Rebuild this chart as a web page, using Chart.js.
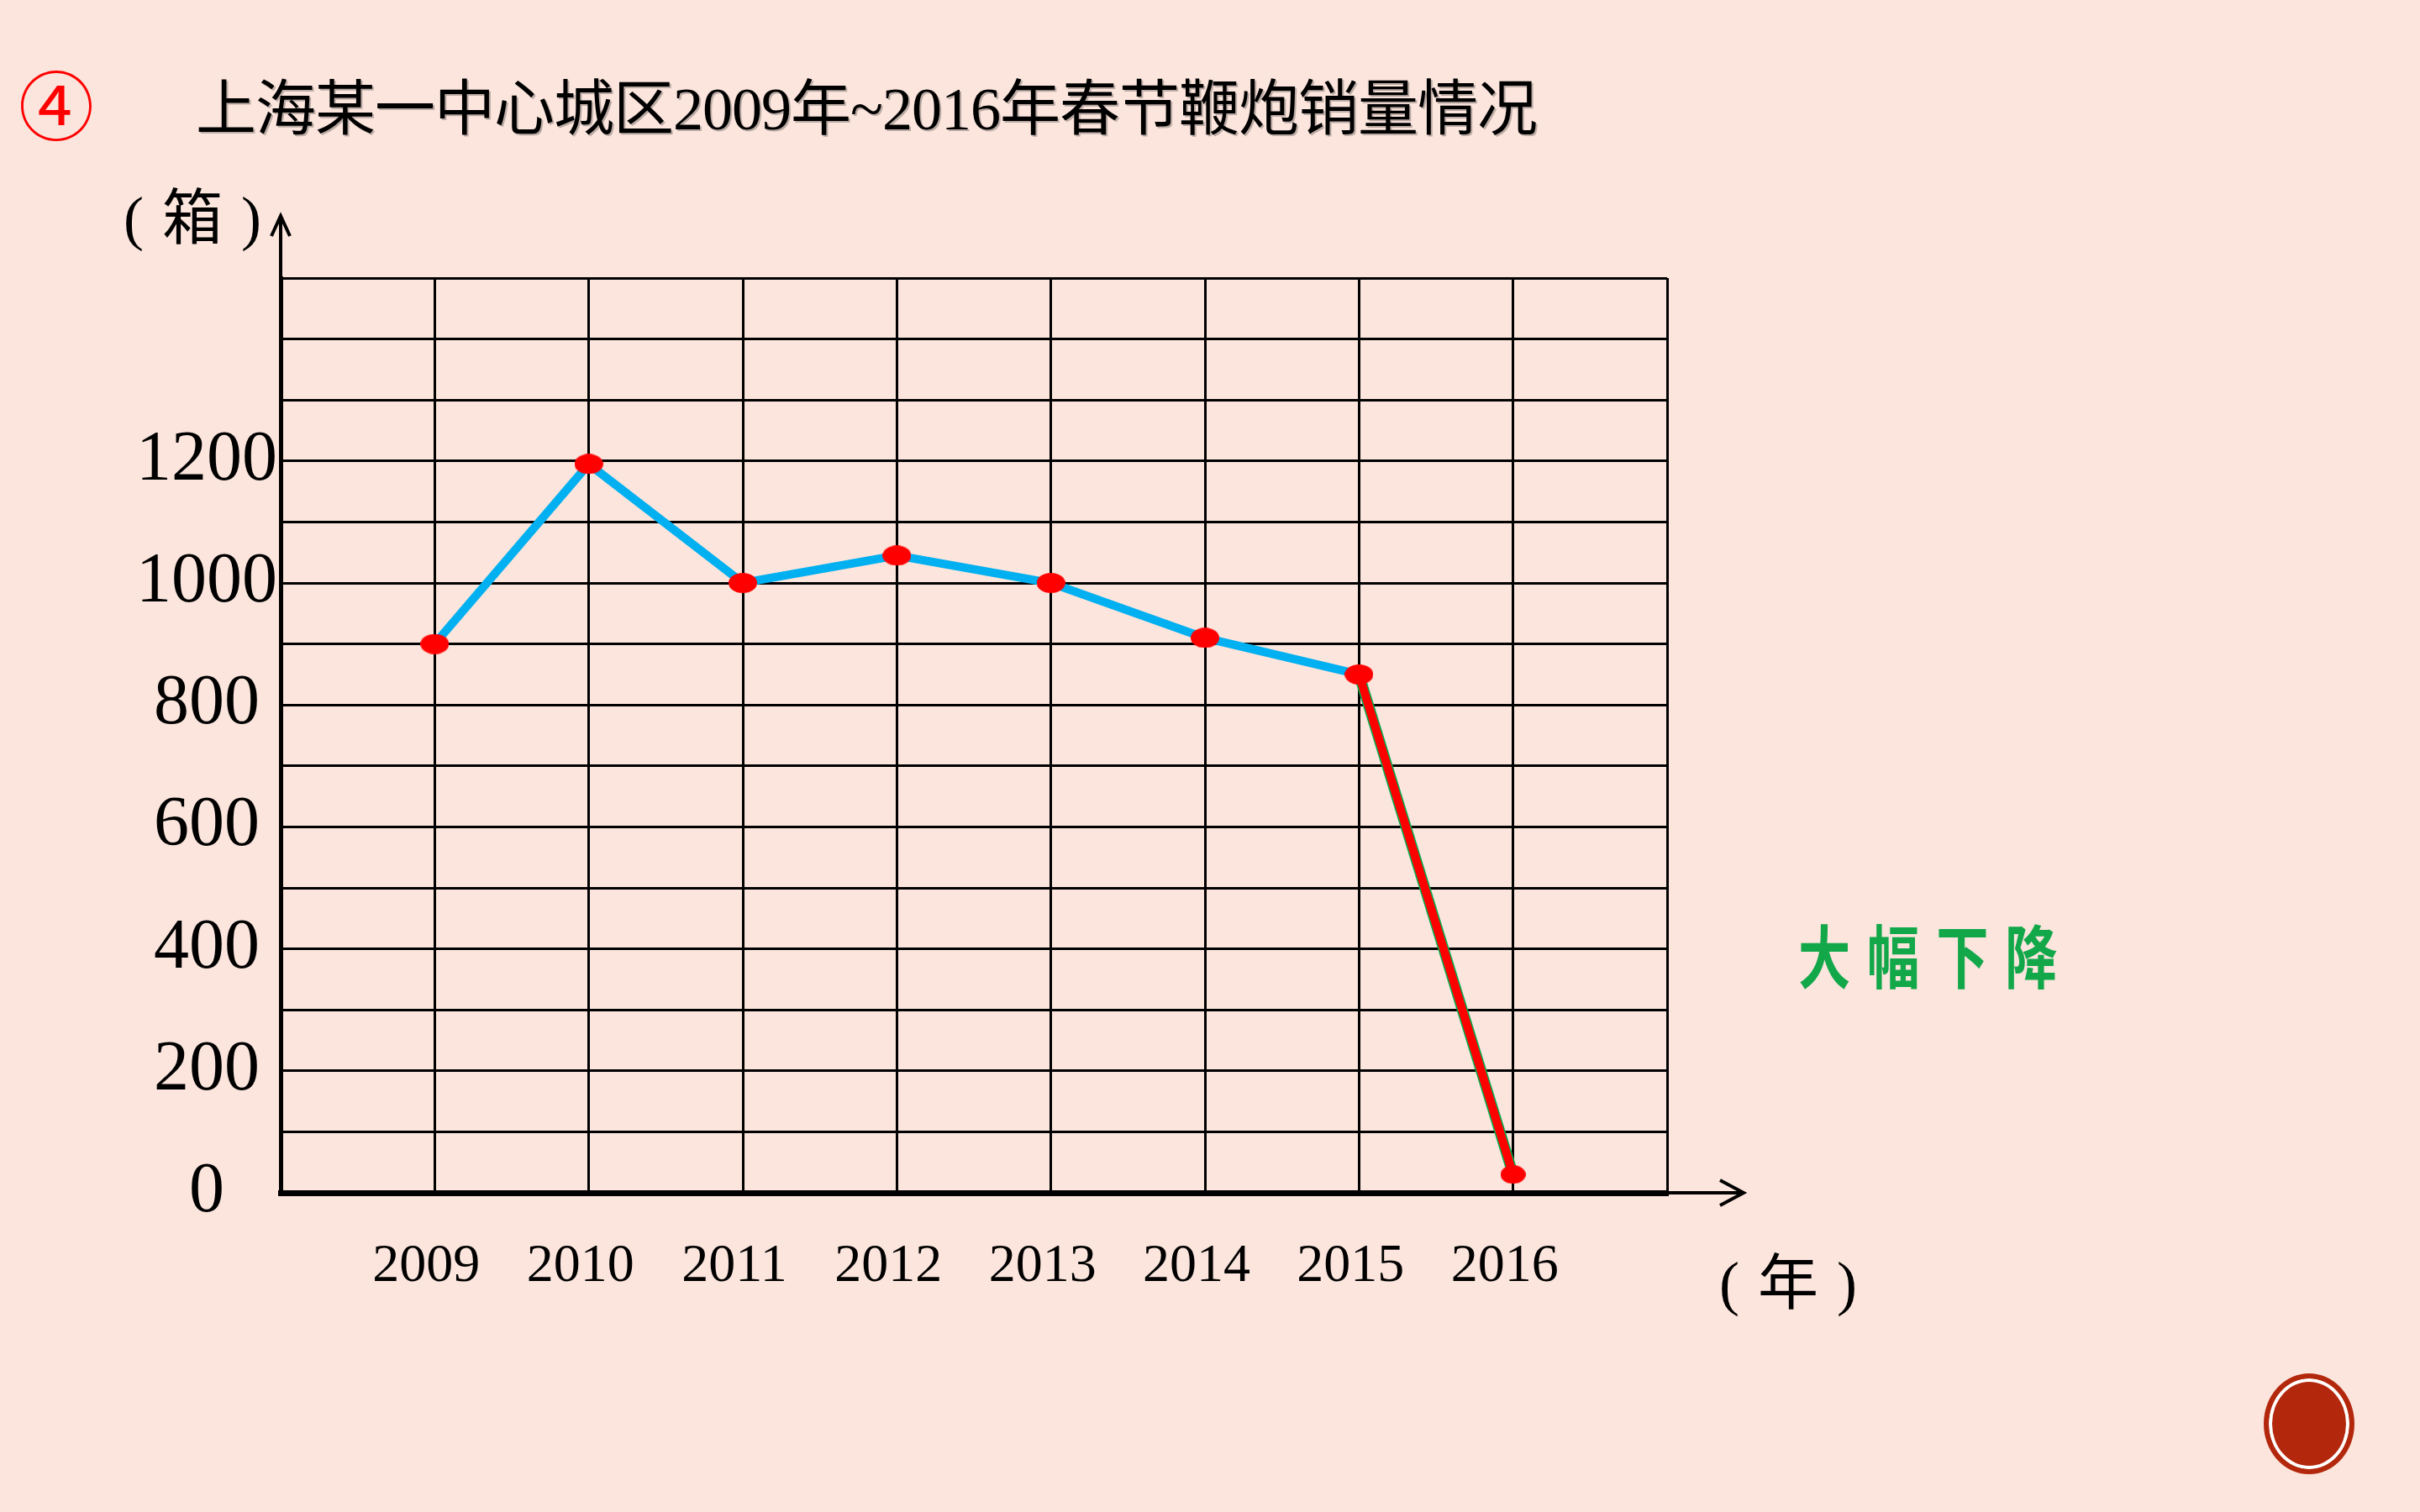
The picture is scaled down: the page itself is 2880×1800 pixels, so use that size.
<!DOCTYPE html>
<html>
<head>
<meta charset="utf-8">
<script src="https://cdn.jsdelivr.net/npm/chart.js@4.4.1/dist/chart.umd.min.js"></script>
<style>
  html, body { margin: 0; padding: 0; background: #FBE5DD; }
  #wrap { position: relative; width: 2880px; height: 1800px; overflow: hidden; }
  #chart { position: absolute; left: 0; top: 0; }
  .txt { position: absolute; white-space: nowrap; line-height: 1; font-family: "Liberation Serif", "Noto Sans CJK SC", serif; color: #000; }
  #num { left: 22px; top: 76px; font-size: 90px; color: #FF0000; font-family: "Noto Sans CJK SC", sans-serif; }
  #title { left: 233px; top: 94px; font-size: 72px; letter-spacing: -1px; text-shadow: 2px 2px 0 rgba(0,0,0,0.25); }
  .unit { font-size: 72px; }
  .unit span { display: inline-block; margin: 0 22px; }
  #unitY { left: 147px; top: 224px; }
  #unitX { left: 2046px; top: 1492px; }
  #note { left: 2140px; top: 1094px; font-size: 82px; font-weight: 700; color: #12A84A; letter-spacing: 26px;
          font-family: "Noto Sans CJK SC", sans-serif; transform: scaleX(0.76); transform-origin: left top; }
  #btn { position: absolute; left: 2694px; top: 1635px; width: 96px; height: 108px; border-radius: 50%;
         background: #B3280C; border: 6px solid #B3280C; box-shadow: inset 0 0 0 4px #FFFFFF; }
</style>
</head>
<body>
<div id="wrap">
  <canvas id="chart" width="2880" height="1800"></canvas>
  <div class="txt" id="num">④</div>
  <div class="txt" id="title">上海某一中心城区2009年~2016年春节鞭炮销量情况</div>
  <div class="txt unit" id="unitY">(<span>箱</span>)</div>
  <div class="txt unit" id="unitX">(<span>年</span>)</div>
  <div class="txt" id="note">大幅下降</div>
  <div id="btn"></div>
</div>
<script>
// 数据
const years = [2009, 2010, 2011, 2012, 2013, 2014, 2015, 2016];
const sales = [900, 1195, 1000, 1045, 1000, 910, 850, 30];
const dropLine = [null, null, null, null, null, null, 850, 30];
const yTickLabels = [0, 200, 400, 600, 800, 1000, 1200];
const xMin = 2008, xMax = 2017;
const yMin = 0, yMax = 1500, yStep = 100;

// 红色椭圆点
function makeDot(w, h) {
  const c = document.createElement('canvas');
  c.width = w;
  c.height = h;
  const g = c.getContext('2d');
  g.fillStyle = '#FF0000';
  g.beginPath();
  g.ellipse(w / 2, h / 2, w / 2, h / 2, 0, 0, Math.PI * 2);
  g.fill();
  return c;
}
const bigDot = makeDot(34, 24);
const smallDot = makeDot(30, 22);

// 坐标轴箭头
const axisArrows = {
  id: 'axisArrows',
  afterDraw(chart) {
    const ctx = chart.ctx;
    const left = chart.scales.x.getPixelForValue(xMin);
    const right = chart.scales.x.getPixelForValue(xMax);
    const bottom = chart.scales.y.getPixelForValue(yMin);
    const top = chart.scales.y.getPixelForValue(yMax);
    ctx.save();
    ctx.strokeStyle = '#000';
    ctx.lineWidth = 4;
    ctx.beginPath();
    ctx.moveTo(left, top);
    ctx.lineTo(left, top - 74);
    ctx.moveTo(left - 11, top - 50);
    ctx.lineTo(left, top - 74);
    ctx.lineTo(left + 11, top - 50);
    ctx.moveTo(right, bottom);
    ctx.lineTo(right + 91, bottom);
    ctx.moveTo(right + 63, bottom - 15);
    ctx.lineTo(right + 91, bottom);
    ctx.lineTo(right + 63, bottom + 15);
    ctx.stroke();
    ctx.restore();
  }
};

new Chart(document.getElementById('chart'), {
  type: 'line',
  data: {
    datasets: [{
      label: '销量',
      data: years.map((yr, i) => ({ x: yr, y: sales[i] })),
      borderColor: '#00B0F0',
      borderWidth: 10,
      borderJoinStyle: 'miter',
      segment: {
        borderColor: c => c.p1DataIndex === years.length - 1 ? '#FF0000' : undefined
      },
      pointStyle: years.map((yr, i) => i === years.length - 1 ? smallDot : bigDot),
      pointRadius: 12,
      tension: 0
    }, {
      label: '下降',
      data: years.map((yr, i) => ({ x: yr, y: dropLine[i] })),
      borderColor: '#00B050',
      borderWidth: 13,
      pointRadius: 0,
      tension: 0
    }]
  },
  options: {
    responsive: false,
    animation: false,
    devicePixelRatio: 1,
    layout: { padding: { top: 331, right: 896, left: 0, bottom: 0 } },
    plugins: {
      legend: { display: false },
      tooltip: { enabled: false }
    },
    scales: {
      x: {
        type: 'linear',
        min: xMin,
        max: xMax,
        afterFit: s => { s.height = 380; },
        grid: { color: '#000', lineWidth: 3, drawTicks: false },
        border: { display: true, color: '#000', width: 7 },
        ticks: {
          stepSize: 1,
          autoSkip: false,
          maxRotation: 0,
          padding: 50,
          labelOffset: -10,
          color: '#000',
          font: { family: 'Liberation Serif', size: 64 },
          callback: v => years.includes(v) ? String(v) : ''
        }
      },
      y: {
        min: yMin,
        max: yMax,
        afterFit: s => { s.width = 334; },
        grid: { color: '#000', lineWidth: 3, drawTicks: false },
        border: { display: true, color: '#000', width: 5 },
        ticks: {
          stepSize: yStep,
          autoSkip: false,
          padding: 4,
          crossAlign: 'center',
          color: '#000',
          font: { family: 'Liberation Serif', size: 84 },
          callback: v => yTickLabels.includes(v) ? String(v) : ''
        }
      }
    }
  },
  plugins: [axisArrows]
});
</script>
</body>
</html>
